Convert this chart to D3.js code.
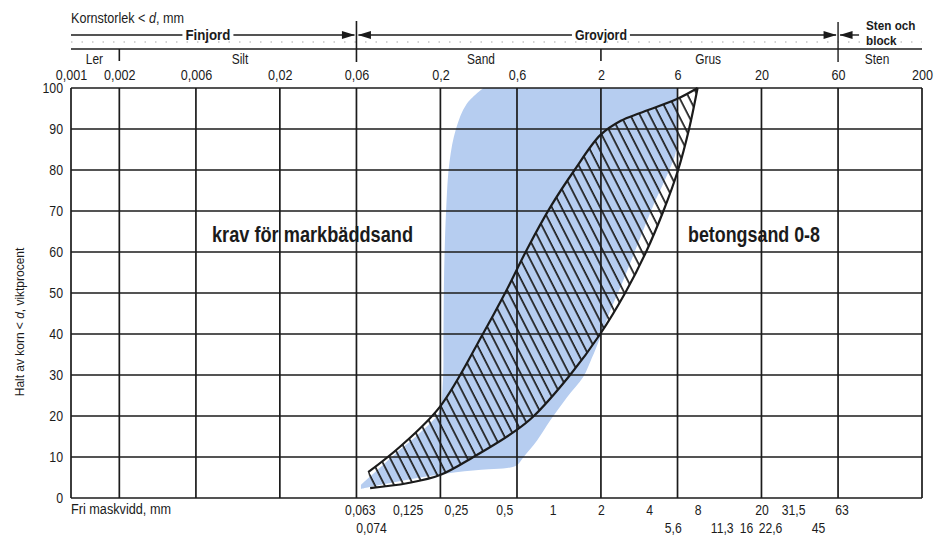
<!DOCTYPE html>
<html>
<head>
<meta charset="utf-8">
<script src="https://cdn.jsdelivr.net/npm/d3@7"></script>
<style>
  body { margin: 0; background: #fff; }
  svg text { font-family: "Liberation Sans Narrow", "Arial Narrow", "Liberation Sans", Arial, sans-serif; fill: #1b1b1b; }
</style>
</head>
<body>
<svg id="chart" width="945" height="537"></svg>
<script>
// Grain size classes (mm) marked along the top scale
const gridSizes = [0.001, 0.002, 0.006, 0.02, 0.06, 0.2, 0.6, 2, 6, 20, 60, 200];
// Percent passing gridlines
const percentTicks = [0, 10, 20, 30, 40, 50, 60, 70, 80, 90, 100];
// Sieve openings along the bottom, two rows
const sieveRow1 = [0.063, 0.125, 0.25, 0.5, 1, 2, 4, 8, 20, 31.5, 63];
const sieveRow2 = [0.074, 5.6, 11.3, 16, 22.6, 45];

// Soil class names under the top scale: [label, size (mm)]
const classNames = [["Ler", 0.0014], ["Silt", 0.0113], ["Sand", 0.358], ["Grus", 9.3], ["Sten", 105]];

// Bedding sand requirement band (krav för markbäddsand): [size mm, % passing]
const bedFineLimit = [[0.37, 100], [0.29, 96], [0.25, 90], [0.228, 82], [0.217, 70], [0.211, 55], [0.209, 40], [0.207, 28], [0.196, 21], [0.15, 16], [0.11, 11.5], [0.082, 7], [0.064, 3.2]];
const bedCoarseLimit = [[0.064, 2.2], [0.09, 3.4], [0.15, 5], [0.25, 6.3], [0.4, 7], [0.52, 7.3], [0.6, 8], [0.66, 10], [0.8, 14], [0.97, 19], [1.23, 24.6], [1.55, 29.5], [1.75, 34], [1.95, 38.5], [2.25, 45], [2.75, 53], [3.4, 62], [4.2, 71], [5.2, 79], [5.9, 85], [6, 100]];

// Concrete sand 0-8 grading envelope (betongsand 0-8)
const concreteFineLimit = [[0.071, 6.3], [0.112, 12.5], [0.199, 22.3], [0.37, 40.2], [0.506, 50], [0.70, 61], [0.97, 71], [1.37, 80], [1.98, 88.5], [2.66, 92], [3.51, 93.9], [5.94, 97.3], [8, 100]];
const concreteCoarseLimit = [[8, 100], [7.08, 90], [6.05, 80], [4.9, 70], [3.82, 60], [2.83, 50], [1.98, 40], [1.285, 30], [0.755, 19.8], [0.598, 16.6], [0.321, 10], [0.199, 5.6], [0.124, 3.6], [0.073, 2.4]];

const fmt = d => String(d).replace(".", ",");

const svg = d3.select("#chart");
const plotLeft = 71, plotRight = 922, plotTop = 88, plotBottom = 498;

const x = d3.scaleLog().domain([0.001, 200]).range([plotLeft, plotRight]);
const y = d3.scaleLinear().domain([0, 100]).range([plotBottom, plotTop]);

const ink = "#1b1b1b";

// squeeze text horizontally to a condensed look
function condense(sel, k) {
  sel.each(function () {
    const len = this.getComputedTextLength();
    d3.select(this).attr("textLength", len * k).attr("lengthAdjust", "spacingAndGlyphs");
  });
}

// ---- soft blue requirement band
const pt = d => [x(d[0]), y(d[1])];
const bandLine = d3.line().curve(d3.curveCatmullRom.alpha(0.5));
const bandPath = bandLine(bedFineLimit.map(pt)) + "L" + bandLine(bedCoarseLimit.map(pt)).slice(1) + "Z";
svg.append("path")
  .attr("d", bandPath)
  .attr("fill", "#b6cdf0");

// ---- grid
const grid = svg.append("g").attr("stroke", ink).attr("stroke-width", 1.7);
grid.selectAll("line.h").data(percentTicks).join("line")
  .attr("class", "h")
  .attr("x1", plotLeft).attr("x2", plotRight)
  .attr("y1", d => y(d)).attr("y2", d => y(d));
grid.selectAll("line.v").data(gridSizes).join("line")
  .attr("class", "v")
  .attr("x1", d => x(d)).attr("x2", d => x(d))
  .attr("y1", plotTop).attr("y2", plotBottom);

// ---- hatched envelope
const defs = svg.append("defs");
const pat = defs.append("pattern")
  .attr("id", "hatch")
  .attr("patternUnits", "userSpaceOnUse")
  .attr("width", 8.6).attr("height", 20)
  .attr("patternTransform", "rotate(-27)");
pat.append("line")
  .attr("x1", 2).attr("x2", 2).attr("y1", 0).attr("y2", 20)
  .attr("stroke", ink).attr("stroke-width", 1.7);

const envLine = d3.line().curve(d3.curveCatmullRom.alpha(0.5));
const envPath = envLine(concreteFineLimit.map(pt)) + "L" + envLine(concreteCoarseLimit.map(pt)).slice(1) + "Z";
svg.append("path").attr("d", envPath).attr("fill", "url(#hatch)");
svg.append("path").attr("d", envLine(concreteFineLimit.map(pt)))
  .attr("fill", "none").attr("stroke", ink).attr("stroke-width", 2.2);
svg.append("path").attr("d", envLine(concreteCoarseLimit.map(pt)))
  .attr("fill", "none").attr("stroke", ink).attr("stroke-width", 2.2);

// ---- y axis
const yAxis = svg.append("g")
  .attr("transform", `translate(${plotLeft},0)`)
  .call(d3.axisLeft(y).tickValues(percentTicks).tickSize(0).tickPadding(8));
yAxis.select(".domain").remove();
yAxis.selectAll("text").attr("font-size", 14.5).attr("font-family", null).attr("fill", ink);
condense(yAxis.selectAll("text"), 0.85);

svg.append("g")
  .attr("transform", "translate(24,322) rotate(-90) scale(0.92,1)")
  .append("text")
  .attr("text-anchor", "middle")
  .attr("font-size", 13)
  .html('Halt av korn &lt; <tspan font-style="italic">d</tspan>, viktprocent');

// ---- top size scale
const topAxis = svg.append("g")
  .attr("transform", "translate(0,80)")
  .call(d3.axisTop(x).tickValues(gridSizes).tickFormat(fmt).tickSize(0).tickPadding(0));
topAxis.select(".domain").remove();
topAxis.selectAll("text").attr("font-size", 15).attr("font-family", null).attr("fill", ink);
condense(topAxis.selectAll("text"), 0.84);

// ---- bottom sieve labels
const row1 = svg.append("g")
  .attr("transform", "translate(0,515)")
  .call(d3.axisBottom(x).tickValues(sieveRow1).tickFormat(fmt).tickSize(0).tickPadding(0));
row1.select(".domain").remove();
row1.selectAll("text").attr("dy", null).attr("y", 0).attr("font-size", 14.5).attr("font-family", null).attr("fill", ink);
condense(row1.selectAll("text"), 0.84);

const row2 = svg.append("g")
  .attr("transform", "translate(0,533)")
  .call(d3.axisBottom(x).tickValues(sieveRow2).tickFormat(fmt).tickSize(0).tickPadding(0));
row2.select(".domain").remove();
row2.selectAll("text").attr("dy", null).attr("y", 0).attr("font-size", 14.5).attr("font-family", null).attr("fill", ink);
condense(row2.selectAll("text"), 0.84);

const fri = svg.append("text").attr("x", plotLeft).attr("y", 514).attr("font-size", 14).text("Fri maskvidd, mm");
fri.attr("textLength", 100).attr("lengthAdjust", "spacingAndGlyphs");

// ---- header: soil classification bands
const head = svg.append("g");
head.append("g")
  .attr("transform", `translate(${plotLeft},23) scale(0.9,1)`)
  .append("text").attr("font-size", 14)
  .html('Kornstorlek &lt; <tspan font-style="italic">d</tspan>, mm');

// dotted guide
head.append("line").attr("x1", plotLeft).attr("x2", plotRight).attr("y1", 42).attr("y2", 42)
  .attr("stroke", "#aaa").attr("stroke-width", 1.2).attr("stroke-dasharray", "1.5,9");
// lower rule
head.append("line").attr("x1", plotLeft).attr("x2", plotRight).attr("y1", 49).attr("y2", 49)
  .attr("stroke", ink).attr("stroke-width", 1.4);

const xf = x(0.06), xg = x(60);
// arrow rule
head.append("line").attr("x1", plotLeft).attr("x2", xf - 2).attr("y1", 35).attr("y2", 35).attr("stroke", ink).attr("stroke-width", 1.4);
head.append("line").attr("x1", xf + 2).attr("x2", xg - 2).attr("y1", 35).attr("y2", 35).attr("stroke", ink).attr("stroke-width", 1.4);
head.append("line").attr("x1", xg + 2).attr("x2", xg + 21).attr("y1", 35).attr("y2", 35).attr("stroke", ink).attr("stroke-width", 1.4);

const arrow = (tip, dir) => head.append("path")
  .attr("d", `M${tip},35 L${tip - dir * 13},31 L${tip - dir * 13},39 Z`)
  .attr("fill", ink);
arrow(xf - 1.5, 1); arrow(xf + 1.5, -1);
arrow(xg - 1.5, 1); arrow(xg + 1.5, -1);

// dividers and ticks
head.append("line").attr("x1", xf).attr("x2", xf).attr("y1", 21).attr("y2", 62).attr("stroke", ink).attr("stroke-width", 1.6);
head.append("line").attr("x1", xg).attr("x2", xg).attr("y1", 22).attr("y2", 62).attr("stroke", ink).attr("stroke-width", 1.4);
head.append("line").attr("x1", x(0.002)).attr("x2", x(0.002)).attr("y1", 49).attr("y2", 61).attr("stroke", ink).attr("stroke-width", 1.6);
head.append("line").attr("x1", x(2)).attr("x2", x(2)).attr("y1", 49).attr("y2", 61).attr("stroke", ink).attr("stroke-width", 1.6);

// band titles with white knock-out
[["Finjord", Math.sqrt(0.001 * 0.06) * 0.92, 45], ["Grovjord", 2, 52]].forEach(([t, v, w]) => {
  const g = head.append("g");
  g.append("rect").attr("x", x(v) - w / 2 - 3).attr("y", 28).attr("width", w + 6).attr("height", 13).attr("fill", "#fff");
  g.append("text").attr("x", x(v)).attr("y", 40).attr("text-anchor", "middle")
    .attr("font-size", 15).attr("font-weight", "bold")
    .attr("textLength", w).attr("lengthAdjust", "spacingAndGlyphs").text(t);
});

// "Sten och block", two lines
const stenOch = head.append("text").attr("x", xg + 28).attr("y", 30)
  .attr("font-size", 13).attr("font-weight", "bold").text("Sten och");
const blockTxt = head.append("text").attr("x", xg + 28).attr("y", 45)
  .attr("font-size", 13).attr("font-weight", "bold").text("block");
condense(stenOch, 0.9);
condense(blockTxt, 0.9);

const cls = head.selectAll("text.cls").data(classNames).join("text")
  .attr("class", "cls")
  .attr("x", d => x(d[1])).attr("y", 64)
  .attr("text-anchor", "middle").attr("font-size", 14)
  .text(d => d[0]);
condense(cls, 0.85);

// ---- area labels
svg.append("text").attr("x", 312.5).attr("y", 242).attr("text-anchor", "middle")
  .attr("font-size", 22).attr("font-weight", "bold")
  .attr("textLength", 201).attr("lengthAdjust", "spacingAndGlyphs")
  .text("krav för markbäddsand");
svg.append("text").attr("x", 754).attr("y", 242).attr("text-anchor", "middle")
  .attr("font-size", 22).attr("font-weight", "bold")
  .attr("textLength", 132).attr("lengthAdjust", "spacingAndGlyphs")
  .text("betongsand 0-8");
</script>
</body>
</html>
